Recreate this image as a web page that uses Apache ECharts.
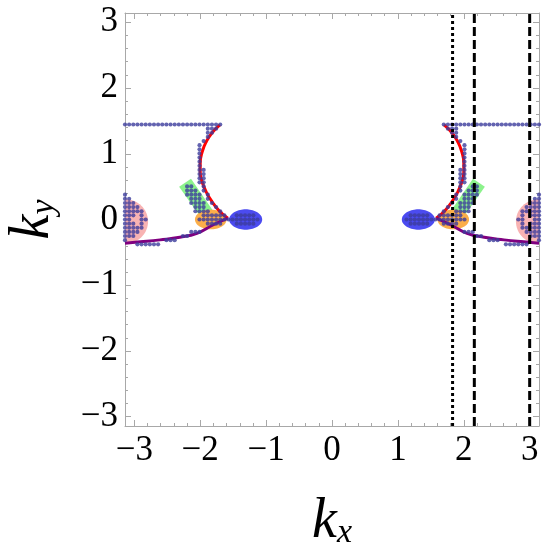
<!DOCTYPE html>
<html>
<head>
<meta charset="utf-8">
<script src="https://cdn.jsdelivr.net/npm/echarts@6/dist/echarts.min.js"></script>
<style>
html, body { margin: 0; padding: 0; background: #fff; }
#main { width: 542px; height: 544px; }
</style>
</head>
<body>
<div id="main"></div>
<script>
var PI = Math.PI;

// tick marks
var majorTicks = [-3, -2, -1, 0, 1, 2, 3];
var minorTicks = [-2.8, -2.6, -2.4, -2.2, -1.8, -1.6, -1.4, -1.2, -0.8, -0.6, -0.4, -0.2,
                  0.2, 0.4, 0.6, 0.8, 1.2, 1.4, 1.6, 1.8, 2.2, 2.4, 2.6, 2.8];

// dots sit on a grid of step pi/50; runs are [ky index, first kx index, last kx index]
var dotStep = PI / 50;
var leftDotRuns = [
    [23, -50, -27],
    [22, -30, -28], [21, -30, -29], [20, -30, -30], [19, -31, -31],
    [18, -32, -32], [17, -32, -32], [16, -32, -32], [15, -32, -32], [14, -32, -32], [13, -32, -32],
    [12, -32, -31], [11, -32, -31], [10, -32, -31], [9, -32, -31],
    [8, -35, -34], [8, -31, -31], [7, -35, -33], [7, -31, -31], [6, -35, -32], [6, -30, -30],
    [5, -34, -32], [5, -30, -30], [4, -34, -31], [4, -29, -29], [3, -33, -31], [3, -28, -28],
    [2, -33, -30], [2, -27, -27],
    [1, -31, -26], [1, -23, -19],
    [0, -32, -18], [-1, -30, -27], [-1, -23, -19],
    [-3, -34, -32], [-4, -36, -35], [-5, -40, -38], [-5, -50, -50], [-6, -47, -42],
    [6, -50, -50], [5, -50, -49], [4, -50, -48], [3, -50, -47], [2, -50, -46],
    [1, -50, -48], [1, -46, -46], [0, -50, -49], [0, -46, -45], [-1, -50, -48], [-1, -46, -46],
    [-2, -50, -46], [-3, -50, -47], [-4, -50, -48]
];
var rightDotRuns = [
    [23, 27, 50],
    [22, 28, 30], [21, 29, 30], [20, 30, 30], [19, 31, 31],
    [18, 32, 32], [17, 32, 32], [16, 32, 32], [15, 32, 32], [14, 32, 32], [13, 32, 32],
    [12, 31, 32], [11, 31, 32], [10, 31, 32], [9, 31, 32],
    [8, 34, 35], [8, 31, 31], [7, 33, 35], [7, 31, 31], [6, 32, 35], [6, 30, 30],
    [5, 32, 34], [5, 30, 30], [4, 31, 34], [4, 29, 29], [3, 31, 33], [3, 28, 28],
    [2, 30, 33], [2, 27, 27],
    [1, 26, 31], [1, 19, 23],
    [0, 18, 32], [-1, 27, 30], [-1, 19, 23],
    [-3, 32, 34], [-4, 35, 36], [-5, 38, 40], [-5, 50, 50], [-6, 42, 47],
    [6, 50, 50], [5, 49, 50], [4, 48, 50], [3, 47, 50], [2, 46, 50],
    [1, 48, 50], [1, 46, 46], [0, 49, 50], [0, 45, 46], [-1, 48, 50], [-1, 46, 46],
    [-2, 46, 50], [-3, 47, 50], [-4, 48, 50]
];

// curves
var redLeft = [[-1.70, 1.44], [-1.82, 1.32], [-1.91, 1.18], [-1.97, 1.03], [-2.00, 0.86],
               [-2.00, 0.72], [-1.97, 0.57], [-1.91, 0.42], [-1.82, 0.27], [-1.71, 0.13], [-1.58, 0.02]];
var redRight = [[1.70, 1.44], [1.82, 1.32], [1.91, 1.18], [1.97, 1.03], [2.00, 0.86],
                [2.00, 0.72], [1.97, 0.57], [1.91, 0.42], [1.82, 0.27], [1.71, 0.13], [1.58, 0.02]];
var purpleLeft = [[-3.1416, -0.36], [-2.91, -0.34], [-2.61, -0.31], [-2.31, -0.27],
                  [-2.05, -0.21], [-1.80, -0.08], [-1.58, 0.02]];
var purpleRight = [[3.1416, -0.36], [2.91, -0.34], [2.61, -0.31], [2.31, -0.27],
                   [2.05, -0.21], [1.80, -0.08], [1.58, 0.02]];

// regions: ellipses are [cx, cy, rx, ry]
var pinkDisks = [[-PI, -0.03, 0.35, 0.34], [PI, -0.03, 0.35, 0.34]];
var orangeEllipses = [[-1.84, 0.0, 0.24, 0.15], [1.84, 0.0, 0.24, 0.15]];
var blueEllipses = [[-1.31, 0.0, 0.25, 0.155], [1.31, 0.0, 0.25, 0.155]];
var greenQuads = [
    [[-2.32, 0.50], [-2.14, 0.62], [-1.79, 0.11], [-1.97, 0.0]],
    [[2.32, 0.50], [2.14, 0.62], [1.79, 0.11], [1.97, 0.0]]
];

// vertical reference lines
var dottedLines = [1.83];
var dashedLines = [2.16, 3.0];

function runsToDots(runs) {
    var out = [];
    runs.forEach(function(r) {
        for (var i = r[1]; i <= r[2]; i++) out.push([i * dotStep, r[0] * dotStep]);
    });
    return out;
}

function clipOf(params) {
    var cs = params.coordSys;
    return { type: 'rect', shape: { x: cs.x, y: cs.y, width: cs.width, height: cs.height } };
}

function ellipseRender(shapes) {
    return function(params, api) {
        var s = shapes[params.dataIndex];
        var pts = [];
        for (var k = 0; k < 72; k++) {
            var t = 2 * PI * k / 72;
            pts.push(api.coord([s[0] + s[2] * Math.cos(t), s[1] + s[3] * Math.sin(t)]));
        }
        return { type: 'polygon', shape: { points: pts }, style: { fill: api.visual('color') }, clipPath: clipOf(params) };
    };
}

function quadRender(params, api) {
    var q = greenQuads[params.dataIndex];
    var pts = q.map(function(p) { return api.coord(p); });
    return { type: 'polygon', shape: { points: pts }, style: { fill: api.visual('color') }, clipPath: clipOf(params) };
}

var frameColor = '#a8a8a8';
var serif = "'Liberation Serif', 'Times New Roman', serif";

function fmt(v) {
    return v < 0 ? '\u2212' + Math.abs(v) : String(v);
}

function makeAxis(pos, major, showLabel, name) {
    var ax = {
        type: 'value', position: pos, min: -PI, max: PI, offset: 0,
        splitLine: { show: false },
        axisLine: { show: major, onZero: false, lineStyle: { color: frameColor, width: 1 } },
        axisTick: { show: true, inside: true, length: major ? 6 : 3,
                    customValues: major ? majorTicks : minorTicks,
                    lineStyle: { color: frameColor, width: 1 } },
        axisLabel: { show: showLabel, customValues: majorTicks, formatter: fmt,
                     fontFamily: serif, fontSize: 35, color: '#000', margin: 7 }
    };
    if (name) {
        ax.name = name;
        ax.nameLocation = 'middle';
        ax.nameTextStyle = {
            rich: {
                k: { fontFamily: serif, fontStyle: 'italic', fontSize: 56, lineHeight: 56,
                     padding: [0, 0, 3, 0], verticalAlign: 'top', color: '#000' },
                s: { fontFamily: serif, fontStyle: 'italic', fontSize: 34, lineHeight: 30,
                     verticalAlign: 'bottom', color: '#000' }
            }
        };
    }
    return ax;
}

var xBottom = makeAxis('bottom', true, true, '{k|k}{s|x}');
xBottom.nameGap = 68;
var yLeft = makeAxis('left', true, true, '{k|k}{s|y}');
yLeft.nameGap = 64;
yLeft.nameRotate = 90;

var myChart = echarts.init(document.getElementById('main'));
var option = {
    animation: false,
    backgroundColor: '#fff',
    grid: { left: 125, right: 3, top: 13, bottom: 118, containLabel: false, outerBoundsMode: 'none' },
    xAxis: [xBottom, makeAxis('bottom', false, false), makeAxis('top', true, false), makeAxis('top', false, false)],
    yAxis: [yLeft, makeAxis('left', false, false), makeAxis('right', true, false), makeAxis('right', false, false)],
    series: [
        { type: 'custom', name: 'pink', renderItem: ellipseRender(pinkDisks), data: pinkDisks,
          itemStyle: { color: '#f8b3b3' }, z: 1, silent: true },
        { type: 'custom', name: 'green', renderItem: quadRender,
          data: greenQuads.map(function(q) { return q[0]; }),
          itemStyle: { color: '#8cf28c' }, z: 1, silent: true },
        { type: 'custom', name: 'orange', renderItem: ellipseRender(orangeEllipses), data: orangeEllipses,
          itemStyle: { color: '#fbae4a' }, z: 1, silent: true },
        { type: 'custom', name: 'blue', renderItem: ellipseRender(blueEllipses), data: blueEllipses,
          itemStyle: { color: '#4b4bf0' }, z: 1, silent: true },
        { type: 'line', data: redLeft, smooth: true, symbol: 'none', lineStyle: { color: '#ff0000', width: 3 }, z: 2 },
        { type: 'line', data: redRight, smooth: true, symbol: 'none', lineStyle: { color: '#ff0000', width: 3 }, z: 2 },
        { type: 'line', data: purpleLeft, smooth: true, symbol: 'none', lineStyle: { color: '#800080', width: 3 }, z: 2 },
        { type: 'line', data: purpleRight, smooth: true, symbol: 'none', lineStyle: { color: '#800080', width: 3 }, z: 2 },
        { type: 'scatter', data: runsToDots(leftDotRuns).concat(runsToDots(rightDotRuns)),
          symbolSize: 4.2, clip: false, itemStyle: { color: '#3c3c9c' }, z: 3 },
        { type: 'line', data: [[dottedLines[0], -PI], [dottedLines[0], PI]], symbol: 'none',
          lineStyle: { color: '#000', width: 3, type: [3, 3] }, z: 4 },
        { type: 'line', data: [[dashedLines[0], -PI], [dashedLines[0], PI]], symbol: 'none',
          lineStyle: { color: '#000', width: 3, type: [9, 4] }, z: 4 },
        { type: 'line', data: [[dashedLines[1], -PI], [dashedLines[1], PI]], symbol: 'none',
          lineStyle: { color: '#000', width: 3, type: [9, 4] }, z: 4 }
    ]
};
myChart.setOption(option);
</script>
</body>
</html>
